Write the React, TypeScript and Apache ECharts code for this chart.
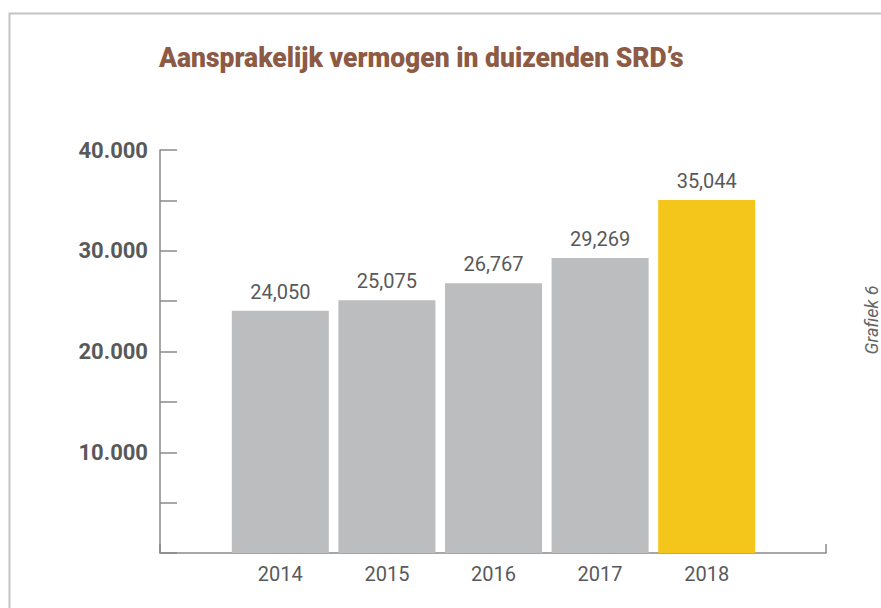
import React, { useEffect, useRef } from "react";
import * as echarts from "echarts";

const years = ["2014", "2015", "2016", "2017", "2018"];
const values = [24050, 25075, 26767, 29269, 35044];
const barColors = ["#bcbdbf", "#bcbdbf", "#bcbdbf", "#bcbdbf", "#f4c51a"];
const titleText = "Aansprakelijk vermogen in duizenden SRD’s";
const sideNote = "Grafiek 6";

const sep = (v: number, s: string) =>
  String(v).replace(/\B(?=(\d{3})+(?!\d))/g, s);

function measure(text: string, font: string) {
  const c = document.createElement("canvas");
  const ctx = c.getContext("2d");
  if (!ctx) return 0;
  ctx.font = font;
  return ctx.measureText(text).width;
}

export default function App() {
  const ref = useRef<HTMLDivElement>(null);
  useEffect(() => {
    if (!ref.current) return;
    const chart = echarts.init(ref.current, null, { renderer: "svg" });
    const axisColor = "#8a8a8a";
    const textColor = "#58595b";
    const titleFont = "900 28px Roboto";
    const tw = measure(titleText, titleFont) || 600;
    const titleScale = 525 / tw;
    chart.setOption({
      animation: false,
      backgroundColor: "#ffffff",
      graphic: [
        {
          type: "polyline",
          shape: { points: [[9.5, 608], [9.5, 13.5], [881, 13.5]] },
          style: { stroke: "#c4c4c4", lineWidth: 2, fill: null },
          silent: true,
        },
        {
          type: "text",
          x: 159,
          y: 58,
          scaleX: titleScale,
          style: {
            text: titleText,
            fontFamily: "Roboto, sans-serif",
            fontWeight: 900,
            fontSize: 28,
            fill: "#8c5a45",
            align: "left",
            verticalAlign: "middle",
          },
          silent: true,
        },
        {
          type: "text",
          x: 871,
          y: 320,
          rotation: Math.PI / 2,
          style: {
            text: sideNote,
            fontFamily: "Roboto, sans-serif",
            fontStyle: "italic",
            fontSize: 18,
            fill: "#666666",
            align: "center",
            verticalAlign: "middle",
          },
          silent: true,
        },
      ],
      grid: [
        { left: 160, right: 55, top: 150, bottom: 55 },
        { left: 227, right: 121, top: 150, bottom: 55 },
      ],
      xAxis: [
        {
          type: "value",
          gridIndex: 0,
          min: 0,
          max: 1,
          interval: 1,
          axisLine: { show: true, lineStyle: { color: axisColor, width: 1.5 } },
          axisTick: { show: true, inside: true, length: 9, lineStyle: { color: axisColor, width: 1.5 } },
          axisLabel: { show: false },
          splitLine: { show: false },
        },
        {
          type: "category",
          gridIndex: 1,
          data: years,
          axisLine: { show: false },
          axisTick: { show: false },
          axisLabel: {
            margin: 11,
            fontFamily: "Roboto, sans-serif",
            fontSize: 20,
            color: textColor,
          },
        },
      ],
      yAxis: [
        {
          type: "value",
          gridIndex: 0,
          min: 0,
          max: 40000,
          interval: 5000,
          axisLine: { show: true, lineStyle: { color: axisColor, width: 1.5 } },
          axisTick: { show: true, inside: true, length: 17, lineStyle: { color: axisColor, width: 1.5 } },
          splitLine: { show: false },
          axisLabel: {
            margin: 12,
            fontFamily: "Roboto, sans-serif",
            fontWeight: "bold",
            fontSize: 22,
            color: textColor,
            formatter: (v: number) => (v !== 0 && v % 10000 === 0 ? sep(v, ".") : ""),
          },
        },
        {
          type: "value",
          gridIndex: 1,
          min: 0,
          max: 40000,
          show: false,
          splitLine: { show: false },
        },
      ],
      series: [
        {
          type: "bar",
          xAxisIndex: 1,
          yAxisIndex: 1,
          barCategoryGap: "9%",
          data: values.map((v, i) => ({ value: v, itemStyle: { color: barColors[i] } })),
          label: {
            show: true,
            position: "top",
            distance: 9,
            fontFamily: "Roboto, sans-serif",
            fontSize: 20,
            color: textColor,
            formatter: (p: any) => sep(p.value, ","),
          },
        },
      ],
    });
    return () => chart.dispose();
  }, []);
  return (
    <div
      ref={ref}
      style={{ position: "fixed", left: 0, top: 0, width: 881, height: 608 }}
    />
  );
}
